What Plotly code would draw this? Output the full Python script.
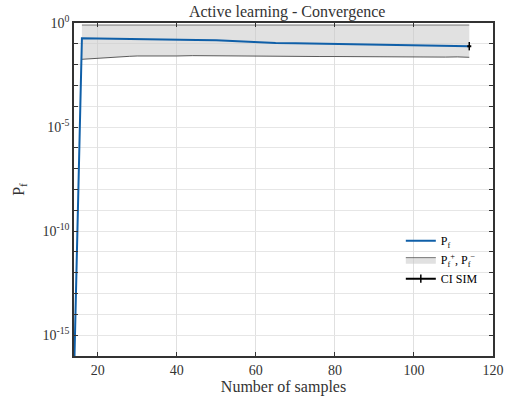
import plotly.graph_objects as go

# ---- data ----
pf_x = [14, 16, 20, 25, 30, 35, 40, 45, 50, 55, 58, 60, 65, 70, 75, 80, 85, 90, 95, 100, 105, 110, 114]
pf_y = [1e-17, 0.186, 0.18, 0.172, 0.165, 0.16, 0.154, 0.151, 0.149, 0.135, 0.122, 0.114, 0.11, 0.107, 0.103, 0.099, 0.097, 0.096, 0.092, 0.089, 0.085, 0.082, 0.077]

band_x = [16, 18, 20, 22, 25, 28, 30, 33, 36, 40, 44, 48, 52, 56, 60, 64, 68, 72, 76, 80, 84, 88, 92, 96, 100, 104, 108, 111, 114]
band_upper = [0.8, 0.8, 0.8, 0.8, 0.8, 0.8, 0.8, 0.8, 0.8, 0.8, 0.8, 0.8, 0.8, 0.8, 0.8, 0.8, 0.8, 0.8, 0.8, 0.8, 0.8, 0.8, 0.8, 0.8, 0.8, 0.8, 0.8, 0.8, 0.8]
band_lower = [0.018, 0.019, 0.021, 0.023, 0.0245, 0.025, 0.026, 0.0255, 0.026, 0.026, 0.027, 0.0265, 0.027, 0.026, 0.0245, 0.025, 0.0255, 0.025, 0.0245, 0.0245, 0.024, 0.0245, 0.023, 0.0235, 0.024, 0.0235, 0.023, 0.0235, 0.0225]

ci_x = [114]
ci_y = [0.077]
ci_err = [0.002]

y_major_exp = [-15, -10, -5, 0]
y_minor_exp = list(range(-16, 1))
x_tickvals = [20, 40, 60, 80, 100, 120]

FONT = "Liberation Serif"
TXT = "#333333"

fig = go.Figure()

fig.add_trace(go.Scatter(
    x=band_x, y=band_lower, mode="lines",
    line=dict(color="#333333", width=0.8),
    showlegend=False, hoverinfo="skip"))
fig.add_trace(go.Scatter(
    x=band_x, y=band_upper, mode="lines", fill="tonexty",
    fillcolor="rgba(200,200,200,0.55)",
    line=dict(color="#555555", width=0.8),
    name="P<sub>f</sub><sup>+</sup>, P<sub>f</sub><sup>−</sup>", legendrank=2))
fig.add_trace(go.Scatter(
    x=pf_x, y=pf_y, mode="lines",
    line=dict(color="#0f5fa8", width=2),
    name="P<sub>f</sub>", legendrank=1))
fig.add_trace(go.Scatter(
    x=ci_x, y=ci_y, mode="lines+markers",
    line=dict(color="black", width=2),
    marker=dict(color="black", symbol="line-ns-open", size=6, line=dict(width=1.5, color="black")),
    error_y=dict(type="data", array=ci_err, color="black", thickness=1.5, width=2),
    name="CI SIM", legendrank=3))

fig.update_layout(
    width=511, height=398,
    margin=dict(l=74, r=18, t=23, b=42, autoexpand=False),
    paper_bgcolor="white", plot_bgcolor="white",
    font=dict(family=FONT, size=14, color=TXT),
    title=dict(text="Active learning - Convergence", x=0.562, xanchor="center",
               y=0.971, yanchor="middle", automargin=False,
               font=dict(family=FONT, size=16, color=TXT)),
    showlegend=True,
    legend=dict(x=0.78, y=0.39, xanchor="left", yanchor="top",
                traceorder="normal",
                bgcolor="rgba(255,255,255,0)", borderwidth=0,
                font=dict(family=FONT, size=12, color="black"),
                itemwidth=30, tracegroupgap=0),
)

fig.update_xaxes(
    range=[14, 120], tickmode="array", tickvals=x_tickvals,
    tickfont=dict(family=FONT, size=14, color=TXT),
    showgrid=True, gridcolor="#e0e0e0", gridwidth=1,
    showline=True, linecolor="#333333", linewidth=1.5, mirror="ticks",
    ticks="inside", ticklen=4, tickcolor="#333333",
    zeroline=False, automargin=False,
    title=dict(text="Number of samples", font=dict(family=FONT, size=16, color=TXT), standoff=2),
)
fig.update_yaxes(
    type="log", range=[-16, 0], tickmode="array",
    tickvals=[10.0 ** e for e in y_major_exp],
    ticktext=["10<sup>%d</sup>" % e for e in y_major_exp],
    tickfont=dict(family=FONT, size=14, color=TXT),
    showgrid=True, gridcolor="#e6e6e6", gridwidth=1,
    minor=dict(tickmode="array", tickvals=[10.0 ** e for e in y_minor_exp],
               ticks="inside", ticklen=4, tickcolor="#333333",
               showgrid=True, gridcolor="#e6e6e6", gridwidth=1),
    showline=True, linecolor="#333333", linewidth=1.5, mirror="ticks",
    ticks="inside", ticklen=4, tickcolor="#333333",
    zeroline=False, automargin=False,
    title=dict(text="P<sub>f</sub>", font=dict(family=FONT, size=16, color=TXT), standoff=14),
)

# remove the default 8px page margin so the figure fills the window exactly
fig.write_html("out.html", config={"displayModeBar": False},
               post_script="document.body.style.margin='0';")
